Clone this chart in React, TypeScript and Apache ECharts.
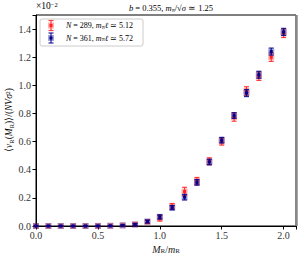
import React, { useEffect, useRef } from 'react';
import * as echarts from 'echarts';

const xValues = [0, 0.1, 0.2, 0.3, 0.4, 0.5, 0.6, 0.7, 0.8, 0.9, 1.0, 1.1, 1.2, 1.3, 1.4, 1.5, 1.6, 1.7, 1.8, 1.9, 2.0];
const redValues = [0, 0, 0, 0, 0, 0.0005, 0.002, 0.005, 0.012, 0.03, 0.055, 0.14, 0.245, 0.32, 0.46, 0.6, 0.775, 0.96, 1.065, 1.2, 1.37];
const redErrors = [0.0005, 0.0005, 0.0005, 0.0005, 0.0005, 0.001, 0.002, 0.004, 0.008, 0.012, 0.02, 0.02, 0.03, 0.025, 0.025, 0.025, 0.03, 0.03, 0.03, 0.03, 0.03];
const blueValues = [0, 0, 0, 0, 0, 0.0005, 0.001, 0.004, 0.01, 0.032, 0.065, 0.13, 0.205, 0.31, 0.455, 0.61, 0.785, 0.945, 1.075, 1.24, 1.38];
const blueErrors = [0.0005, 0.0005, 0.0005, 0.0005, 0.0005, 0.001, 0.001, 0.003, 0.006, 0.01, 0.015, 0.015, 0.02, 0.02, 0.02, 0.02, 0.02, 0.025, 0.025, 0.025, 0.025];

const RED = '#ff2020';
const BLUE = '#00008b';
const FONT = 'Liberation Serif';

function markParts(cx: number, cy: number, top: number, bot: number, color: string) {
  const cap = 2.5;
  return [
    { type: 'line', shape: { x1: cx, y1: top, x2: cx, y2: bot }, style: { stroke: color, lineWidth: 1.2, opacity: 0.85 } },
    { type: 'line', shape: { x1: cx - cap, y1: top, x2: cx + cap, y2: top }, style: { stroke: color, lineWidth: 1.2, opacity: 0.85 } },
    { type: 'line', shape: { x1: cx - cap, y1: bot, x2: cx + cap, y2: bot }, style: { stroke: color, lineWidth: 1.2, opacity: 0.85 } },
    { type: 'rect', shape: { x: cx - 3, y: cy - 3, width: 6, height: 6 }, style: { fill: color, opacity: 0.35 } },
    { type: 'rect', shape: { x: cx - 1.5, y: cy - 1.5, width: 3, height: 3 }, style: { fill: color } },
  ];
}

function makeSeries(name: string, values: number[], errors: number[], color: string) {
  return {
    type: 'custom',
    name,
    clip: false,
    data: xValues.map((x, i) => [x, values[i], errors[i]]),
    renderItem: (_params: any, api: any) => {
      const x = api.value(0);
      const y = api.value(1);
      const e = api.value(2);
      const c = api.coord([x, y]);
      const t = api.coord([x, y + e]);
      const b = api.coord([x, y - e]);
      return { type: 'group', children: markParts(c[0], c[1], t[1], b[1], color) };
    },
  };
}

const richBase = {
  n: { fontFamily: FONT, fontSize: 8, color: '#222' },
  i: { fontFamily: FONT, fontSize: 8, fontStyle: 'italic', color: '#222' },
  s: { fontFamily: FONT, fontSize: 6, color: '#222', verticalAlign: 'bottom', lineHeight: 6 },
};

export default function App() {
  const ref = useRef<HTMLDivElement>(null);
  useEffect(() => {
    if (!ref.current) return;
    const chart = echarts.init(ref.current, null, { renderer: 'svg' });
    const legendMarks = [
      ...markParts(51, 25.5, 20.5, 30.5, RED),
      ...markParts(51, 38, 33, 43, BLUE),
    ].map((el) => ({ ...el, z: 21 }));
    chart.setOption({
      animation: false,
      backgroundColor: '#fff',
      grid: {
        left: 36, right: 6, top: 15, bottom: 31, show: true, borderColor: '#000', borderWidth: 1,
        containLabel: false, outerBoundsMode: 'none',
      },
      xAxis: {
        type: 'value', min: 0, max: 2.1, interval: 0.5,
        splitLine: { show: false },
        axisLine: { lineStyle: { color: '#000' } },
        axisTick: { inside: false, length: 3.5, lineStyle: { color: '#000' } },
        axisLabel: {
          fontFamily: FONT, fontSize: 10, color: '#333', margin: 4,
          formatter: (v: number) => (v > 2.05 ? '' : v.toFixed(1)),
        },
        name: '{i|M}{s|R}{n|/}{i|m}{s|R}',
        nameLocation: 'middle', nameGap: 17,
        nameTextStyle: {
          rich: {
            n: { fontFamily: FONT, fontSize: 10, color: '#222' },
            i: { fontFamily: FONT, fontSize: 10, fontStyle: 'italic', color: '#222' },
            s: { fontFamily: FONT, fontSize: 7, color: '#222', verticalAlign: 'bottom', lineHeight: 7 },
          },
        },
      },
      yAxis: {
        type: 'value', min: 0, max: 1.5, interval: 0.2,
        splitLine: { show: false },
        axisLine: { lineStyle: { color: '#000' } },
        axisTick: { inside: false, length: 3.5, lineStyle: { color: '#000' } },
        axisLabel: {
          fontFamily: FONT, fontSize: 10, color: '#333', margin: 5,
          formatter: (v: number) => (v > 1.45 ? '' : v.toFixed(1)),
        },
      },
      graphic: [
        { type: 'line', shape: { x1: 296.5, y1: 15, x2: 296.5, y2: 226 }, style: { stroke: '#888', lineWidth: 2.5 }, z: 10 },
        {
          type: 'text', x: 9, y: 120, rotation: Math.PI / 2,
          style: {
            text: '{n|⟨}{i|ν}{s|R}{n|(}{i|M}{s|R}{n|)⟩/(}{i|NVσ}{n|²)}',
            align: 'center', verticalAlign: 'middle',
            rich: {
              n: { fontFamily: FONT, fontSize: 9.5, color: '#222', lineHeight: 11 },
              i: { fontFamily: FONT, fontSize: 9.5, fontStyle: 'italic', color: '#222', lineHeight: 11 },
              s: { fontFamily: FONT, fontSize: 6.5, color: '#222', verticalAlign: 'bottom', lineHeight: 6.5 },
            },
          },
        },
        {
          type: 'text', x: 36, y: 1,
          style: {
            text: '{n|×10}{p|−2}',
            rich: {
              n: { fontFamily: FONT, fontSize: 9.5, color: '#333' },
              p: { fontFamily: FONT, fontSize: 6.5, color: '#333', verticalAlign: 'top', lineHeight: 6.5 },
            },
          },
        },
        {
          type: 'text', x: 171, y: 8,
          style: {
            text: '{i|b}{n| = 0.355, }{i|m}{s|π}{n|/√}{i|σ}{n| ≃ 1.25}',
            align: 'center', verticalAlign: 'middle',
            rich: {
              n: { fontFamily: FONT, fontSize: 8.5, color: '#222' },
              i: { fontFamily: FONT, fontSize: 8.5, fontStyle: 'italic', color: '#222' },
              s: { fontFamily: FONT, fontSize: 6, color: '#222', verticalAlign: 'bottom', lineHeight: 6 },
            },
          },
        },
        {
          type: 'rect', shape: { x: 40, y: 19, width: 103, height: 27, r: 2 },
          style: { fill: 'rgba(255,255,255,0.85)', stroke: '#ccc', lineWidth: 1 }, z: 20,
        },
        ...legendMarks,
        {
          type: 'text', x: 66, y: 25.5, z: 22,
          style: { text: '{i|N}{n| = 289, }{i|m}{s|π}{i|ℓ}{n| ≃ 5.12}', verticalAlign: 'middle', rich: richBase },
        },
        {
          type: 'text', x: 66, y: 38, z: 22,
          style: { text: '{i|N}{n| = 361, }{i|m}{s|π}{i|ℓ}{n| ≃ 5.72}', verticalAlign: 'middle', rich: richBase },
        },
      ],
      series: [
        makeSeries('N = 289', redValues, redErrors, RED),
        makeSeries('N = 361', blueValues, blueErrors, BLUE),
      ],
    });
    return () => chart.dispose();
  }, []);
  return <div ref={ref} style={{ width: 302, height: 257, position: 'absolute', left: 0, top: 0 }} />;
}
